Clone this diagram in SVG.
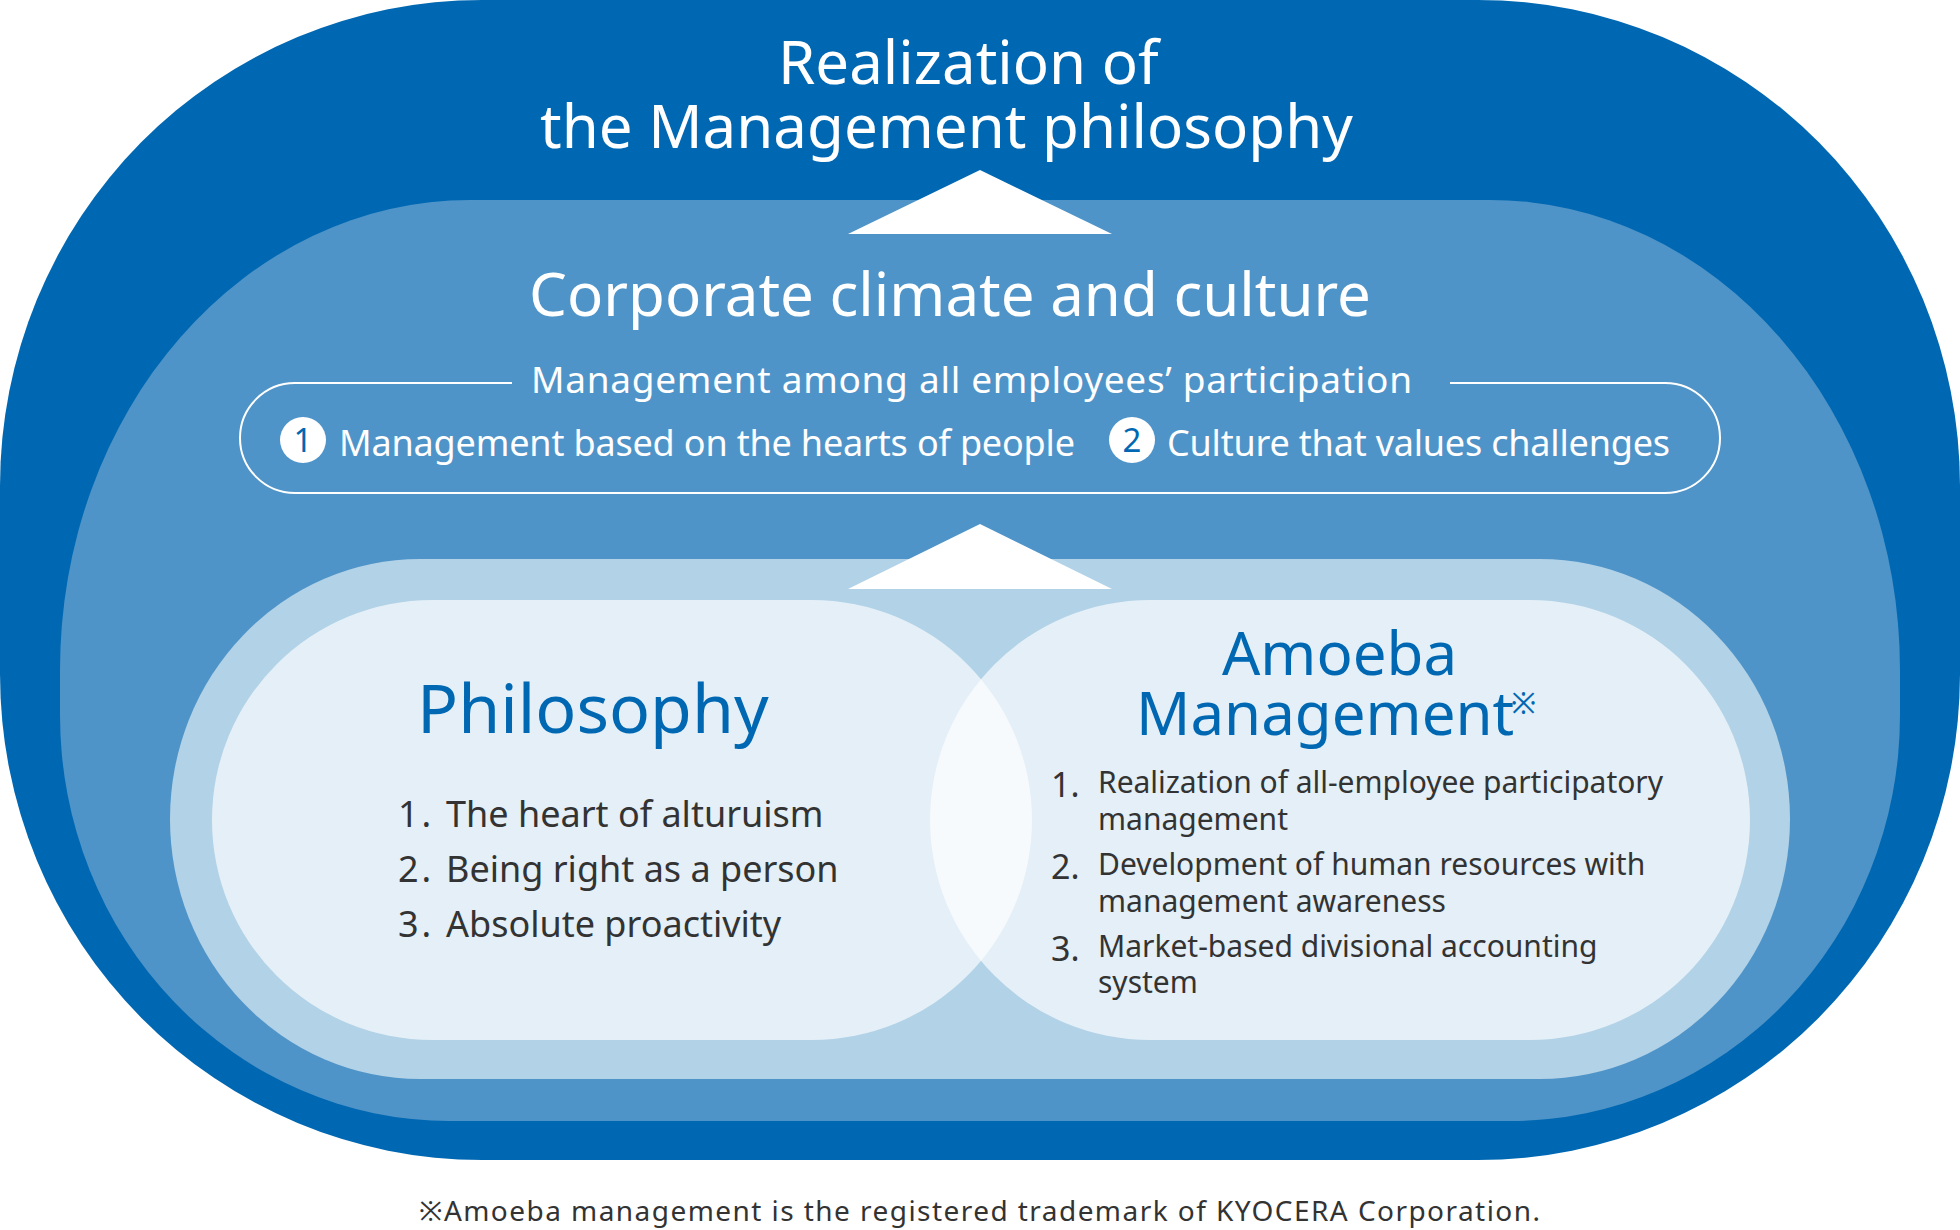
<svg xmlns="http://www.w3.org/2000/svg" width="1960" height="1230" viewBox="0 0 1960 1230">
<style>
  text { font-family: "Noto Sans", "Noto Sans CJK JP", sans-serif; }
  .w { fill: #ffffff; }
  .title { font-size: 60px; fill: #ffffff; }
  .blue { fill: #0068B2; }
  .dark { fill: #333333; }
  .item { font-size: 36px; fill: #333333; }
  .aitem { font-size: 30px; fill: #333333; }
  .anum { font-size: 34px; fill: #333333; }
  .tri { fill: #ffffff; }
  .inner { fill: #ffffff; fill-opacity: 0.65; }
</style>
<rect width="1960" height="1230" fill="#ffffff"/>

<g id="layer-realization">
  <rect x="0" y="0" width="1960" height="1160" rx="482" ry="486" fill="#0068B2"/>
  <text class="title"><tspan x="778" y="84">Realization of</tspan><tspan x="540" y="148">the Management philosophy</tspan></text>
</g>

<g id="layer-culture">
  <path d="M470,200 H1490 A410,470 0 0 1 1900,670 V715 A390,406 0 0 1 1510,1121 H450 A390,406 0 0 1 60,715 V670 A410,470 0 0 1 470,200 Z" fill="#4F94C8"/>
  <text class="title" x="529" y="316">Corporate climate and culture</text>
</g>

<g id="participation">
  <path d="M512,383 H295 A55,55 0 0 0 295,493 H1665 A55,55 0 0 0 1665,383 H1450" fill="none" stroke="#ffffff" stroke-width="2"/>
  <text class="w" x="531" y="393" font-size="37" textLength="881" lengthAdjust="spacing">Management among all employees’ participation</text>
  <circle cx="303" cy="440" r="23" fill="#ffffff"/>
  <text x="303" y="452" font-size="33" text-anchor="middle" class="blue">1</text>
  <text class="w" x="339" y="456" font-size="36" textLength="736" lengthAdjust="spacing">Management based on the hearts of people</text>
  <circle cx="1132" cy="440" r="23" fill="#ffffff"/>
  <text x="1132" y="452" font-size="33" text-anchor="middle" class="blue">2</text>
  <text class="w" x="1167" y="456" font-size="36" textLength="503" lengthAdjust="spacing">Culture that values challenges</text>
</g>

<g id="layer-base">
  <rect x="170" y="559" width="1620" height="520" rx="250" ry="260" fill="#B2D2E7"/>
</g>

<g id="connectors">
  <polygon class="tri" points="980,170 1112,234 848,234"/>
  <polygon class="tri" points="980,524 1112,589 848,589"/>
</g>

<g id="philosophy">
  <rect class="inner" x="212" y="600" width="820" height="440" rx="220" ry="220"/>
  <text class="blue" x="417" y="733" font-size="68">Philosophy</text>
  <text class="item" x="398" y="827" letter-spacing="3">1.</text>
  <text class="item" x="446" y="827">The heart of alturuism</text>
  <text class="item" x="398" y="882" letter-spacing="3">2.</text>
  <text class="item" x="446" y="882">Being right as a person</text>
  <text class="item" x="398" y="937" letter-spacing="3">3.</text>
  <text class="item" x="446" y="937">Absolute proactivity</text>
</g>

<g id="amoeba">
  <rect class="inner" x="930" y="600" width="820" height="440" rx="220" ry="220"/>
  <text class="blue" font-size="60"><tspan x="1222" y="675">Amoeba</tspan><tspan x="1136" y="735">Management</tspan><tspan x="1511" y="714" font-size="30">※</tspan></text>
  <text class="anum" x="1051" y="797">1.</text>
  <text class="aitem"><tspan x="1098" y="793" textLength="565" lengthAdjust="spacing">Realization of all-employee participatory</tspan><tspan x="1098" y="830">management</tspan></text>
  <text class="anum" x="1051" y="879">2.</text>
  <text class="aitem"><tspan x="1098" y="875">Development of human resources with</tspan><tspan x="1098" y="912">management awareness</tspan></text>
  <text class="anum" x="1051" y="961">3.</text>
  <text class="aitem"><tspan x="1098" y="957">Market-based divisional accounting</tspan><tspan x="1098" y="993">system</tspan></text>
</g>

<g id="footnote">
  <text class="dark" x="419" y="1221" font-size="28" textLength="1121" lengthAdjust="spacing">※Amoeba management is the registered trademark of KYOCERA Corporation.</text>
</g>
</svg>
